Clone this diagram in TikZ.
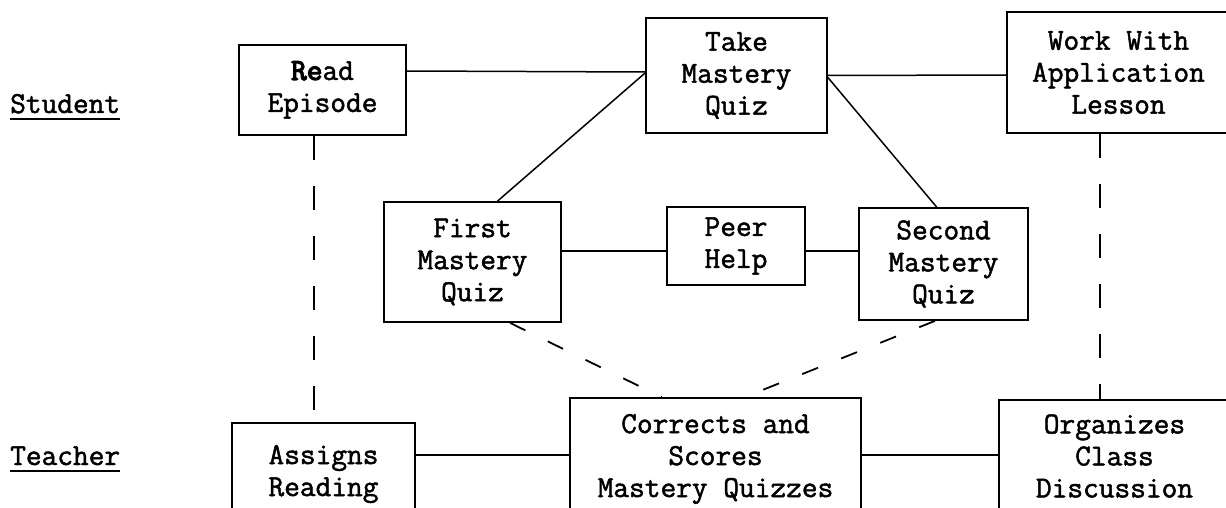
\documentclass[tikz,border=0pt]{standalone}
\usepackage{fontspec}
\setmonofont{Latin Modern Mono}[FakeBold=1.6]
\newfontfamily\overstrike{Latin Modern Mono}[FakeBold=4]
\usetikzlibrary{calc}
\newcommand{\lanetext}[1]{{\setbox0\hbox{#1}\rlap{\rule[-7pt]{\wd0}{1.8pt}}\box0}}
\begin{document}
\begin{tikzpicture}[x=1pt,y=-1pt,
  box/.style={draw,line width=1.8pt,rectangle,align=center,inner sep=0pt,
              font=\ttfamily\fontsize{30.5}{32}\selectfont},
  conn/.style={line width=1.5pt},
  dashconn/.style={line width=1.5pt,dash pattern=on 24pt off 26pt},
  diagdash/.style={line width=1.8pt,dash pattern=on 17pt off 25pt},
  lane/.style={anchor=base west,inner sep=0pt,font=\ttfamily\fontsize{30.5}{32}\selectfont}]
\useasboundingbox (0,0) rectangle (1226,508);
\clip (0,0) rectangle (1226,508);

% lane labels
\node[lane] (student) at (10,113) {\lanetext{Student}};
\node[lane] (teacher) at (10,465) {\lanetext{Teacher}};

% student row
\node[box,minimum width=167,minimum height=90]  (read)   at (322.5,90)   {{\overstrike Re}ad\\Episode};
\node[box,minimum width=181,minimum height=115] (take)   at (736.5,75.5) {Take\\Mastery\\Quiz};
\node[box,minimum width=223,minimum height=121] (work)   at (1118.5,72.5) {Work With\\Application\\Lesson};

% middle row
\node[box,minimum width=177,minimum height=120] (first)  at (472.5,262)  {First\\Mastery\\Quiz};
\node[box,minimum width=138,minimum height=78]  (peer)   at (736,246)    {Peer\\Help};
\node[box,minimum width=169,minimum height=112] (second) at (943.5,264)  {Second\\Mastery\\Quiz};

% teacher row
\node[box,minimum width=183,minimum height=102] (assigns)   at (323.5,474)  {Assigns\\Reading};
\node[box,minimum width=291,minimum height=122] (corrects)  at (715.5,459)  {Corrects and\\Scores\\Mastery Quizzes};
\node[box,minimum width=231,minimum height=112] (organizes) at (1114.5,456) {Organizes\\Class\\Discussion};

% solid connectors
\draw[conn] ([yshift=19pt]read.east) -- ([yshift=3.5pt]take.west);
\draw[conn] (take.east) -- ([yshift=-2.5pt]work.west);
\draw[conn] ($(first.north west)!0.64!(first.north east)$) -- ([yshift=2.5pt]take.west);
\draw[conn] ([yshift=-2pt]take.east) -- ($(second.north west)!0.46!(second.north east)$);
\draw[conn] ([yshift=11pt]first.east) -- ([yshift=-5pt]peer.west);
\draw[conn] ([yshift=-5pt]peer.east) -- ([yshift=13pt]second.west);
\draw[conn] ([yshift=19pt]assigns.east) -- ([yshift=4pt]corrects.west);
\draw[conn] ([yshift=4pt]corrects.east) -- ([yshift=1pt]organizes.west);

% dashed connectors
\draw[dashconn] ([xshift=-8.5pt]read.south) -- ([xshift=-9.5pt]assigns.north);
\draw[dashconn] ([xshift=-18.5pt]work.south) -- ([xshift=-14.5pt]organizes.north);
\draw[diagdash] ($(first.south west)!0.71!(first.south east)$) -- ($(corrects.north west)!0.316!(corrects.north east)$);
\draw[diagdash] ($(second.south west)!0.45!(second.south east)$) -- ($(corrects.north west)!0.60!(corrects.north east)$);
\end{tikzpicture}
\end{document}
